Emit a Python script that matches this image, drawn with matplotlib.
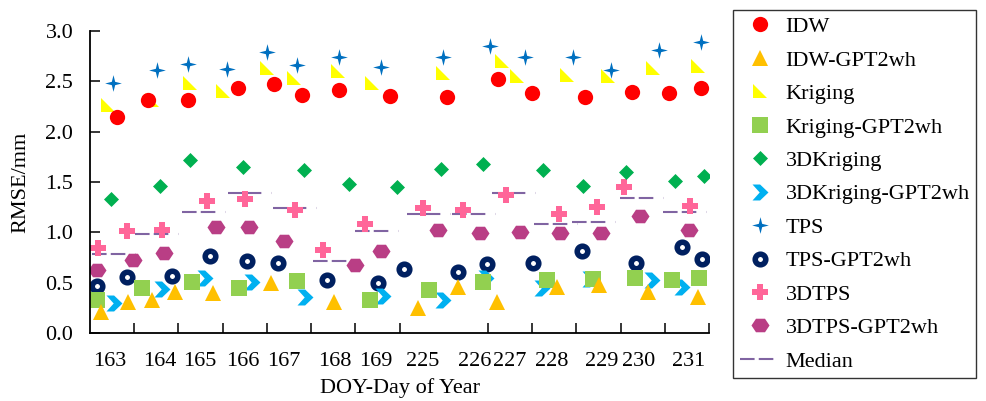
import numpy as np
import matplotlib
matplotlib.use('Agg')
import matplotlib.pyplot as plt
from matplotlib.lines import Line2D
from matplotlib.ticker import FormatStrFormatter

plt.rcParams['font.family'] = ['Liberation Serif', 'DejaVu Serif']
plt.rcParams['font.size'] = 16

############### Dados (RMSE em mm, posicao x em "slots" do eixo)
doy_labels = ['163', '164', '165', '166', '167', '168', '169',
              '225', '226', '227', '228', '229', '230', '231']
doy_label_pos = [0.45, 1.58, 2.49, 3.46, 4.39, 5.54, 6.47,
                 7.53, 8.71, 9.50, 10.45, 11.58, 12.40, 13.53]

x_idw = [0.61, 1.31, 2.22, 3.35, 4.16, 4.80, 5.63, 6.79, 8.08, 9.23, 10.00, 11.20, 12.26, 13.10, 13.82]
y_idw = [2.15, 2.31, 2.31, 2.43, 2.47, 2.36, 2.41, 2.35, 2.34, 2.52, 2.38, 2.34, 2.39, 2.38, 2.43]

x_idw_g = [0.25, 0.86, 1.40, 1.92, 2.78, 4.09, 5.52, 7.42, 8.32, 9.21, 10.56, 11.51, 12.62, 13.75]
y_idw_g = [0.21, 0.31, 0.33, 0.41, 0.40, 0.50, 0.31, 0.25, 0.46, 0.31, 0.46, 0.48, 0.41, 0.36]

x_kri = [0.41, 1.40, 2.26, 3.01, 4.00, 4.61, 5.61, 6.38, 7.98, 9.32, 9.66, 10.79, 11.72, 12.73, 13.75]
y_kri = [2.26, 2.31, 2.48, 2.40, 2.63, 2.53, 2.60, 2.48, 2.58, 2.70, 2.55, 2.56, 2.55, 2.63, 2.65]

x_kri_g = [0.16, 1.18, 2.31, 3.37, 4.68, 6.33, 7.67, 8.89, 10.34, 11.38, 12.33, 13.16, 13.78]
y_kri_g = [0.33, 0.45, 0.51, 0.45, 0.52, 0.33, 0.43, 0.51, 0.53, 0.54, 0.55, 0.53, 0.55]

x_3dk = [0.48, 1.58, 2.26, 3.46, 4.84, 5.86, 6.94, 7.94, 8.89, 10.25, 11.15, 12.12, 13.23, 13.89]
y_3dk = [1.33, 1.46, 1.72, 1.65, 1.62, 1.48, 1.45, 1.63, 1.68, 1.62, 1.46, 1.60, 1.51, 1.56]

x_3dk_g = [0.54, 1.63, 2.60, 3.66, 4.86, 6.63, 7.98, 8.96, 10.22, 11.31, 12.71, 13.39]
y_3dk_g = [0.30, 0.44, 0.55, 0.51, 0.36, 0.37, 0.33, 0.55, 0.45, 0.54, 0.53, 0.46]

x_tps = [0.52, 1.52, 2.22, 3.10, 4.00, 4.68, 5.63, 6.58, 7.98, 9.05, 9.84, 10.93, 11.78, 12.87, 13.82]
y_tps = [2.48, 2.61, 2.67, 2.62, 2.79, 2.66, 2.74, 2.64, 2.74, 2.85, 2.74, 2.74, 2.61, 2.81, 2.89]

x_tps_g = [0.16, 0.84, 1.85, 2.71, 3.55, 4.25, 5.36, 6.51, 7.10, 8.32, 8.98, 10.02, 11.13, 12.35, 13.39, 13.84]
y_tps_g = [0.47, 0.56, 0.57, 0.76, 0.72, 0.70, 0.53, 0.50, 0.64, 0.61, 0.69, 0.70, 0.81, 0.70, 0.85, 0.74]

x_3dt = [0.18, 0.84, 1.63, 2.65, 3.51, 4.64, 5.27, 6.22, 7.53, 8.44, 9.41, 10.61, 11.47, 12.08, 13.57]
y_3dt = [0.84, 1.01, 1.02, 1.31, 1.33, 1.22, 0.82, 1.08, 1.24, 1.22, 1.37, 1.18, 1.25, 1.45, 1.26]

x_3dt_g = [0.16, 0.97, 1.67, 2.85, 3.60, 4.39, 5.99, 6.58, 7.87, 8.82, 9.73, 10.63, 11.56, 12.44, 13.55]
y_3dt_g = [0.63, 0.73, 0.79, 1.05, 1.05, 0.91, 0.68, 0.81, 1.02, 0.99, 1.00, 0.99, 0.99, 1.16, 1.02]

# mediana: inicio do segmento e valor
x_med = [0.05, 1.02, 2.08, 3.12, 4.14, 5.04, 5.99, 7.17, 8.19, 9.09, 10.04, 10.90, 11.99, 12.96]
y_med = [0.78, 0.98, 1.20, 1.39, 1.24, 0.72, 1.01, 1.18, 1.18, 1.39, 1.08, 1.10, 1.34, 1.20]

############### Marcadores
m_tri_ret = [(-1, 1), (-1, -1), (1, -1)]
m_losango = [(0, 1), (1, 0), (0, -1), (-1, 0)]
m_seta = [(-1, 1), (-0.05, 1), (1, 0), (-0.05, -1), (-1, -1), (-0.1, 0)]
m_estrela = [(0, 1), (0.2, 0.2), (1, 0), (0.2, -0.2), (0, -1), (-0.2, -0.2), (-1, 0), (-0.2, 0.2)]
m_hexa = [(1, 0), (0.5, 0.75), (-0.5, 0.75), (-1, 0), (-0.5, -0.75), (0.5, -0.75)]

series = [
    # label, x, y, marker, size, face, edge, mew
    ('IDW', x_idw, y_idw, 'o', 11, '#FF0000', '#FF0000', 0),
    ('IDW-GPT2wh', x_idw_g, y_idw_g, '^', 11.5, '#FFC000', '#FFC000', 0),
    ('Kriging', x_kri, y_kri, m_tri_ret, 10.5, '#FFFF00', '#FFFF00', 0),
    ('Kriging-GPT2wh', x_kri_g, y_kri_g, 's', 11.5, '#92D050', '#92D050', 0),
    ('3DKriging', x_3dk, y_3dk, m_losango, 10.8, '#00B050', '#00B050', 0),
    ('3DKriging-GPT2wh', x_3dk_g, y_3dk_g, m_seta, 11.5, '#00B0F0', '#00B0F0', 0),
    ('TPS', x_tps, y_tps, m_estrela, 12, '#0070C0', '#0070C0', 0),
    ('TPS-GPT2wh', x_tps_g, y_tps_g, 'o', 7.6, 'white', '#002060', 4),
    ('3DTPS', x_3dt, y_3dt, 'P', 12, '#FF6699', '#FF6699', 0),
    ('3DTPS-GPT2wh', x_3dt_g, y_3dt_g, m_hexa, 13, '#B93E85', '#B93E85', 0),
]

cor_med = '#8064A2'
estilo_med = (0, (7, 2, 7, 5, 1, 30))

fig = plt.figure(figsize=(9.86, 4.01), dpi=100)
ax = fig.add_axes([90 / 986, 68 / 401, 619 / 986, 302 / 401])

# mediana por dia
for xm, ym in zip(x_med, y_med):
    ax.plot([xm, xm + 1.0], [ym, ym], color=cor_med, lw=1.5, ls=estilo_med, zorder=1)

# desenha do ultimo para o primeiro (IDW fica por cima)
handles = []
for lab, xs, ys, mk, ms, fc, ec, mew in reversed(series):
    ax.plot(xs, ys, ls='none', marker=mk, ms=ms, mfc=fc, mec=ec, mew=mew, zorder=2)
for lab, xs, ys, mk, ms, fc, ec, mew in series:
    handles.append(Line2D([], [], ls='none', marker=mk, ms=ms, mfc=fc, mec=ec, mew=mew, label=lab))
handles.append(Line2D([], [], color=cor_med, lw=1.5, ls=estilo_med, label='Median'))

ax.set_xlim(0, 14)
ax.set_ylim(0, 3.0)
ax.spines['top'].set_visible(False)
ax.spines['right'].set_visible(False)
for s in ['left', 'bottom']:
    ax.spines[s].set_linewidth(1.3)

ax.set_xticks([1, 2, 3, 4, 5, 6, 7, 9, 10, 11, 12, 13, 14])
ax.set_xticklabels([])
ax.set_xticks(doy_label_pos, minor=True)
ax.set_xticklabels(doy_labels, minor=True)
ax.tick_params(axis='x', which='major', direction='in', length=7.5, width=1.1)
ax.tick_params(axis='x', which='minor', length=0, pad=14)
ax.set_yticks(np.arange(0, 3.01, 0.5))
ax.yaxis.set_major_formatter(FormatStrFormatter('%.1f'))
ax.tick_params(axis='y', direction='in', length=7.5, width=1.1, pad=12)

ax.set_xlabel('DOY-Day of Year', labelpad=5)
ax.set_ylabel('RMSE/mm', labelpad=11)

leg = fig.legend(handles=handles, loc='upper left', bbox_to_anchor=(733 / 986, 1 - 10 / 401),
                 frameon=True, fancybox=False, edgecolor='black', borderpad=0.3,
                 handlelength=1.8, handletextpad=0.27, labelspacing=0.58, borderaxespad=0)
leg.get_frame().set_linewidth(1.0)

plt.savefig('out.png', dpi=100)
